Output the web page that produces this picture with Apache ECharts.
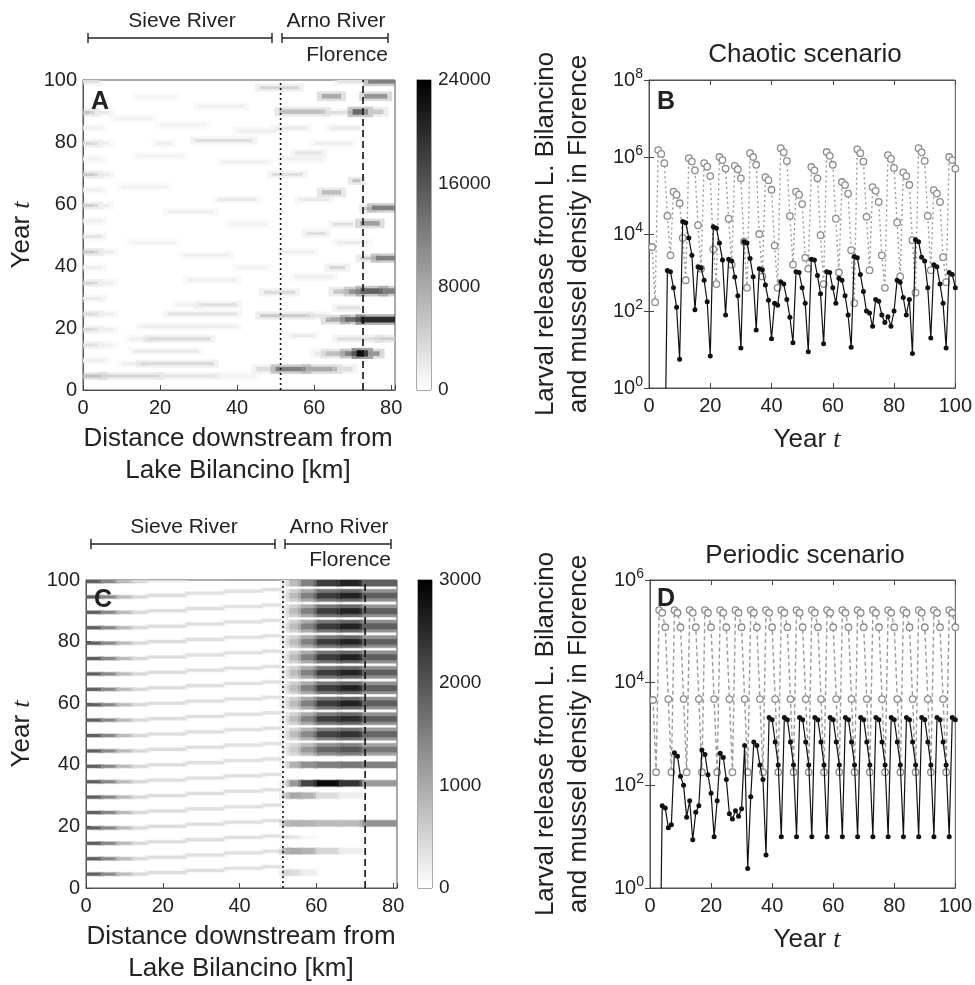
<!DOCTYPE html>
<html><head><meta charset="utf-8">
<script src="https://cdn.jsdelivr.net/npm/echarts@6/dist/echarts.min.js"></script>
<style>html,body{margin:0;padding:0;background:#fff}#c{width:975px;height:985px}</style>
</head><body><div id="c"></div>
<script>
// ---------------- DATA ----------------
// Panel B (chaotic): larval release from Lake Bilancino, years 1..100
const larvalB = [4.6e3,170,
 1.51e6,1.2e6,6.9e5,2.95e4,2.8e3,
 1.26e5,1.05e5,6.3e4,7.9e3,6.3e2,
 9.3e5,7.6e5,4.5e5,1.7e4,1.26e3,
 6.9e5,5.6e5,3.2e5,4.0e3,5.0e2,
 1.0e6,8.3e5,5.0e5,2.5e4,1.6e3,
 5.9e5,4.8e5,2.8e5,6.3e3,4.0e2,
 1.26e6,1.0e6,6.3e5,1.0e4,7.9e2,
 3.0e5,2.5e5,1.41e5,5.0e3,4.0e2,
 1.7e6,1.32e6,7.9e5,2.95e4,1.6e3,
 1.26e5,1.05e5,6.0e4,2.4e3,1.26e3,
 5.5e5,4.5e5,2.8e5,9.3e3,5.0e2,
 1.35e6,1.07e6,6.3e5,2.5e4,1.0e3,
 2.24e5,1.86e5,1.12e5,3.8e3,1.6e2,
 1.58e6,1.26e6,7.6e5,2.8e4,1.15e3,
 1.66e5,1.32e5,6.8e4,2.8e3,4.0e2,
 1.12e6,8.9e5,5.2e5,2.0e4,7.9e2,
 4.0e5,3.2e5,1.9e5,6.9e3,3.0e2,
 1.7e6,1.32e6,7.9e5,2.95e4,1.15e3,
 1.38e5,1.12e5,6.8e4,2.5e3,5.6e2,
 1.0e6,8.3e5,5.0e5];
const larvalBStart = 1;
// Panel B: mussel density in Florence, years 5..100 (year 5 is zero -> below axis)
const musselB = [1e-3,
 1120,1050,400,126,5.6,
 2.1e4,1.95e4,7.9e3,2.8e3,107,
 1400,1300,630,174,6.8,
 1.55e4,1.4e4,5.8e3,2.1e3,79,
 2200,2000,760,250,11,
 6300,5800,2300,780,32,
 1260,1170,470,190,19,
 160,140,575,500,200,69,15,
 1050,1000,400,160,8.7,
 2200,2100,830,280,14,
 1050,1000,400,160,710,630,250,79,11.5,
 2600,2400,890,320,100,89,40,200,178,79,50,71,40,100,
 630,560,224,79,200,7.9,
 7100,6300,2500,2000,400,20,
 1600,1400,500,160,11,
 1000,890,400];
const musselBStart = 5;

// Panel D (periodic): larval release, years 1..100
const larvalD = [4.6e3,180,
 2.6e5,2.3e5,1.2e5,4.8e3,180, 2.6e5,2.3e5,1.2e5,4.8e3,180, 2.6e5,2.3e5,1.2e5,4.8e3,180,
 2.6e5,2.3e5,1.2e5,4.8e3,180, 2.6e5,2.3e5,1.2e5,4.8e3,180, 2.6e5,2.3e5,1.2e5,4.8e3,180,
 2.6e5,2.3e5,1.2e5,4.8e3,180, 2.6e5,2.3e5,1.2e5,4.8e3,180, 2.6e5,2.3e5,1.2e5,4.8e3,180,
 2.6e5,2.3e5,1.2e5,4.8e3,180, 2.6e5,2.3e5,1.2e5,4.8e3,180, 2.6e5,2.3e5,1.2e5,4.8e3,180,
 2.6e5,2.3e5,1.2e5,4.8e3,180, 2.6e5,2.3e5,1.2e5,4.8e3,180, 2.6e5,2.3e5,1.2e5,4.8e3,180,
 2.6e5,2.3e5,1.2e5,4.8e3,180, 2.6e5,2.3e5,1.2e5,4.8e3,180, 2.6e5,2.3e5,1.2e5,4.8e3,180,
 2.6e5,2.3e5,1.2e5,4.8e3,180,
 2.6e5,2.3e5,1.2e5];
const larvalDStart = 1;
// Panel D: mussel density in Florence, years 3..100 (year 3 is zero)
const musselD = [1e-3,
 40,36,15,17,
 430,370,150,100,24,50,8.7,30,40,
 490,400,160,70,10,50,
 420,350,130,28,22,32,25,35,600,2.4,60,
 700,600,250,130,4.4,
 2100,1900,700,250,10, 2100,1900,700,250,10, 2100,1900,700,250,10,
 2100,1900,700,250,10, 2100,1900,700,250,10, 2100,1900,700,250,10,
 2100,1900,700,250,10, 2100,1900,700,250,10, 2100,1900,700,250,10,
 2100,1900,700,250,10, 2100,1900,700,250,10, 2100,1900,700,250,10,
 2100,1900];
const musselDStart = 3;

// Panel A heat map: [kmFrom, kmTo, yearFrom, yearTo, density]
const heatA = [
 [0,4,99,100,3000],[0,3,89,90,5500],[3,7,89,90,2000],[0,5,84,85,1500],[0,4,79,80,3500],[4,7,79,80,1500],
 [0,5,74,75,1200],[0,4,69,70,5000],[4,7,69,70,2000],[0,5,64,65,1500],[0,4,59,60,4500],[4,7,59,60,1500],
 [0,5,54,55,1500],[0,5,49,50,2500],[0,4,44,45,5000],[4,8,44,45,2000],[0,5,39,40,1500],[0,4,34,35,4000],
 [4,8,34,35,1500],[0,5,29,30,1800],[0,4,24,25,3500],[4,8,24,25,1500],[0,4,19,20,3500],[4,8,19,20,1500],
 [0,4,14,15,3000],[4,8,14,15,1200],[0,6,9,10,1500],
 [0,5,4,5,6000],[5,20,4,5,4000],[20,35,4,5,2500],[35,45,4,5,1200],
 [10,15,8,9,1500],[15,34,8,9,3500],[13,30,12,13,2000],[12,17,16,17,1500],[17,33,16,17,3500],
 [15,40,20,21,1500],[22,40,24,25,2500],[30,40,27,28,3000],[24,30,27,28,1500],[27,40,35,36,1500],
 [29,44,80,81,3000],[19,23,79,80,1500],[35,45,61,62,2000],[8,18,87,88,1200],[20,32,85,86,1200],
 [40,50,83,84,1500],[14,26,75,76,1200],[36,48,73,74,1500],[10,22,65,66,1200],[22,34,57,58,1500],
 [38,48,53,54,1200],[12,24,47,48,1200],[26,38,43,44,1500],[40,48,39,40,1200],[30,42,91,92,1500],[14,24,94,95,1000],
 [45,50,6,7.5,3000],[50,58,6,7.5,12000],[58,66,6,7.5,8000],[66,70,6,7.5,3000],
 [60,63,11,12.5,2000],[63,68,11,12.5,6000],[68,71,11,12.5,12000],[71,74,10.8,12.8,23000],[74,77,11,12.5,10000],
 [66,77,16,17,3000],[77,81,16,17,4500],[54,60,17,18,2000],
 [63,68,22,23.5,8000],[68,72,22,23.5,14000],[72,81,21.8,23.6,20000],
 [46,59,23.5,24.5,5000],[59,63,23.5,24.5,2500],[66,72,26,27,3000],
 [47,55,31,32,3500],[65,69,31,32.5,5000],[69,72,31,32.5,10000],[72,78,31,32.8,15000],[78,81,31,32.8,12000],
 [55,65,36,37,1500],[64,68,39,40,4000],[72,76,42,43,5000],[76,81,41.8,43.3,12000],[52,60,44,45,1500],
 [66,74,47,48,2000],[58,63,50,51,3000],[65,70,53,54,3000],[72,77,53,54.5,9000],
 [73,75,58,59,5000],[75,81,58,59.5,12000],[56,64,61,62,2000],[62,67,63,64.5,6000],[70,72,67,68,6000],
 [49,57,69,70,3000],[52,62,74,75,1500],[55,62,76,77,2500],[60,70,79,80,1500],[50,58,84,85,2000],[64,72,84,85,2000],
 [51,63,89,90.5,6000],[63,70,89,90,3000],[70,74,88.8,90.6,14000],[74,78,89,90.5,5000],
 [62,67,94,95.5,8000],[73,79,94,95.5,10000],[46,56,97,98,4000],[66,74,99,100,2500],[74,81,98.8,100,12000]
];
// Panel C heat map (periodic)
const cReleaseYears = [5,10,15,20,25,30,35,40,45,50,55,60,65,70,75,80,85,90,95,100];
// Sieve profile of each release streak: [kmFrom, kmTo, yearShift, density]
const cSieveProfile = [[0,4,0,1900],[4,8,0,1400],[8,12,0,800],[12,16,0,450],
 [16,26,0.5,400],[26,36,1.2,380],[36,46,1.9,350],[46,51,2.4,350]];
const cArnoBins = [[51,53],[53,56],[56,60],[60,66],[66,72],[72,81]];
// [yearFrom, yearTo, density in each Arno bin]
const cArnoRows = [
 [98,100, 300,800,1500,2300,2600,1900],
 [93,94, 200,550,1000,1600,1800,1300],[94,96, 300,800,1500,2300,2600,1900],[96,97, 200,550,1000,1600,1800,1300],
 [88,89, 200,550,1000,1600,1800,1300],[89,91, 300,800,1500,2300,2600,1900],[91,92, 200,550,1000,1600,1800,1300],
 [83,84, 200,550,1000,1600,1800,1300],[84,86, 300,800,1500,2300,2600,1900],[86,87, 200,550,1000,1600,1800,1300],
 [78,79, 200,550,1000,1600,1800,1300],[79,81, 300,800,1500,2300,2600,1900],[81,82, 200,550,1000,1600,1800,1300],
 [73,74, 200,550,1000,1600,1800,1300],[74,76, 300,800,1500,2300,2600,1900],[76,77, 200,550,1000,1600,1800,1300],
 [68,69, 200,550,1000,1600,1800,1300],[69,71, 300,800,1500,2300,2600,1900],[71,72, 200,550,1000,1600,1800,1300],
 [63,64, 200,550,1000,1600,1800,1300],[64,66, 300,800,1500,2300,2600,1900],[66,67, 200,550,1000,1600,1800,1300],
 [58,59, 200,550,1000,1600,1800,1300],[59,61, 300,800,1500,2300,2600,1900],[61,62, 200,550,1000,1600,1800,1300],
 [53,54, 200,550,1000,1600,1800,1300],[54,56, 300,800,1500,2300,2500,1900],[56,57, 200,550,1000,1600,1800,1300],
 [48,49, 200,500,900,1500,1700,1200],[49,51, 300,800,1400,2200,2400,1800],[51,52, 200,500,900,1500,1700,1200],
 [43,44, 200,450,800,1300,1500,1100],[44,46, 250,600,1200,1800,2000,1600],[46,47, 200,450,800,1300,1500,1100],
 [39,41, 300,900,1300,1500,1600,1500],
 [33,35, 400,1200,2200,2900,2400,1200],
 [29,31, 600,1000,900,400,200,0],
 [20,22, 800,900,900,800,800,1300],
 [16,17, 400,300,100,0,0,0],
 [11,13, 900,1000,900,500,200,0],
 [4,6, 500,400,200,0,0,0]
];

const arnoStartKm = 51.3, florenceKm = 72.7;

// ---------------- HELPERS ----------------
const FONT = '"Liberation Sans", Arial, Helvetica, sans-serif';
const TXT = '#222';
function pairs(arr, start){ return arr.map((v,i)=>[start+i, v]); }
const heatC = [];
cReleaseYears.forEach(y=>{ cSieveProfile.forEach(p=>heatC.push([p[0],p[1],y-1+p[2],y+p[2],p[3]])); });
cArnoRows.forEach(r=>{ cArnoBins.forEach((b,j)=>{ if(r[2+j]>0) heatC.push([b[0],b[1],r[0],r[1],r[2+j]]); }); });

// soft-edged cell: a faint halo rect behind the solid core rect
function makeRect(hx, hy, op){
  return function(params, api){
    const a = api.coord([api.value(0), api.value(3)]);
    const b = api.coord([api.value(1), api.value(2)]);
    const c = api.visual('color');
    const w = b[0]-a[0], h = b[1]-a[1];
    return {type:'group', children:[
      {type:'rect', shape:{x:a[0]-hx, y:a[1]-hy, width:w+2*hx, height:h+2*hy}, style:{fill:c, opacity:op}},
      {type:'rect', shape:{x:a[0], y:a[1], width:w, height:h}, style:{fill:c}}
    ]};
  };
}
function barItem(params, api){
  const a = api.coord([0, api.value(1)]);
  const b = api.coord([1, api.value(0)]);
  return {type:'rect', shape:{x:a[0], y:a[1], width:b[0]-a[0], height:b[1]-a[1]},
    style:{fill: new echarts.graphic.LinearGradient(0,0,0,1,[{offset:0,color:'#000'},{offset:1,color:'#fff'}])}};
}
const tick = {show:true, inside:true, length:5, lineStyle:{color:'#444'}};
const line = {show:true, lineStyle:{color:'#555', width:1}};
const lab = {color:TXT, fontSize:20, fontFamily:FONT};
function linX(grid, max, extra){ return Object.assign({gridIndex:grid, type:'value', min:0, max:max, interval:20,
  axisLine:line, axisTick:tick, splitLine:{show:false},
  axisLabel:Object.assign({margin:8, formatter:v=> (v%20===0? String(v):'')}, lab)}, extra||{}); }
function logFmt(v){ const e=Math.round(Math.log10(v)); return (e%2===0)? '{b|10}{s|'+e+'}' : ''; }
const logLab = Object.assign({margin:6, formatter:logFmt, rich:{b:{fontSize:20, lineHeight:26, color:TXT, fontFamily:FONT}, s:{fontSize:14, lineHeight:14, verticalAlign:'top', color:TXT, fontFamily:FONT}}}, lab);
const decB = [1,1e2,1e4,1e6,1e8], decD = [1,1e2,1e4,1e6];
function logY(grid, max, vals, right){
  return {gridIndex:grid, type:'log', logBase:10, min:1, max:max, splitNumber:8, position: right?'right':'left',
    axisLine:line, axisTick:Object.assign({customValues:vals}, tick), splitLine:{show:false}, minorTick:{show:false},
    axisLabel: right? {show:false} : Object.assign({customValues:vals}, logLab)};
}
const cbLab = Object.assign({margin:7, formatter:v=>String(v)}, lab, {fontSize:19});

const grids = [
 {left:83, top:80, width:312, height:310},
 {left:417, top:80, width:14, height:310},
 {left:649, top:80, width:311, height:308},
 {left:86, top:580, width:311, height:308},
 {left:418, top:580, width:14, height:308},
 {left:650, top:580, width:308, height:308}
].map(g=>Object.assign({show:true, borderColor:'#555', borderWidth:1, backgroundColor:'transparent'}, g));

const xAxes = [
 linX(0, 81),
 {gridIndex:1, type:'value', min:0, max:1, show:false},
 linX(2, 100),
 linX(2, 100, {position:'top', axisLabel:{show:false}}),
 linX(3, 81),
 {gridIndex:4, type:'value', min:0, max:1, show:false},
 linX(5, 100),
 linX(5, 100, {position:'top', axisLabel:{show:false}})
];
const yAxes = [
 {gridIndex:0, type:'value', min:0, max:100, interval:20, axisLine:line, axisTick:tick, splitLine:{show:false}, axisLabel:Object.assign({margin:6},lab)},
 {gridIndex:1, type:'value', position:'right', min:0, max:24000, interval:8000, axisLine:line, axisTick:{show:false}, splitLine:{show:false}, axisLabel:cbLab},
 logY(2, 1e8, decB, false),
 logY(2, 1e8, decB, true),
 {gridIndex:3, type:'value', min:0, max:100, interval:20, axisLine:line, axisTick:tick, splitLine:{show:false}, axisLabel:Object.assign({margin:6},lab)},
 {gridIndex:4, type:'value', position:'right', min:0, max:3000, interval:1000, axisLine:line, axisTick:{show:false}, splitLine:{show:false}, axisLabel:cbLab},
 logY(5, 1e6, decD, false),
 logY(5, 1e6, decD, true)
];

function vline(xi, yi, km, dash){
  return {type:'line', xAxisIndex:xi, yAxisIndex:yi, data:[[km,0],[km,100]], symbol:'none', silent:true, z:5,
    lineStyle:{color:'#111', width:1.6, type:dash}};
}
const grayLine = (xi, yi, data, dash) => ({type:'line', xAxisIndex:xi, yAxisIndex:yi, data:data, clip:true, z:3,
  symbol:'circle', symbolSize:6.5, itemStyle:{color:'#fff', borderColor:'#8c8c8c', borderWidth:1.3},
  lineStyle:{color:'#9a9a9a', width:1.4, type:dash}});
const blackLine = (xi, yi, data) => ({type:'line', xAxisIndex:xi, yAxisIndex:yi, data:data, clip:true, z:4,
  symbol:'circle', symbolSize:5, itemStyle:{color:'#111', borderWidth:0}, lineStyle:{color:'#111', width:1.2}});

const series = [
 {type:'custom', xAxisIndex:0, yAxisIndex:0, renderItem:makeRect(5,2.5,0.35), data:heatA, clip:true, dimensions:['x0','x1','y0','y1','v'], encode:{x:[0,1], y:[2,3]}},
 vline(0,0,arnoStartKm,[2,3]), vline(0,0,florenceKm,[7,4]),
 {type:'custom', xAxisIndex:1, yAxisIndex:1, renderItem:barItem, data:[[0,24000]], silent:true},
 grayLine(2,2,pairs(larvalB,larvalBStart),[2,3]),
 blackLine(2,2,pairs(musselB,musselBStart)),
 {type:'custom', xAxisIndex:4, yAxisIndex:4, renderItem:makeRect(3,0.8,0.3), data:heatC, clip:true, dimensions:['x0','x1','y0','y1','v'], encode:{x:[0,1], y:[2,3]}},
 vline(4,4,arnoStartKm,[2,3]), vline(4,4,florenceKm,[7,4]),
 {type:'custom', xAxisIndex:5, yAxisIndex:5, renderItem:barItem, data:[[0,3000]], silent:true},
 grayLine(6,6,pairs(larvalD,larvalDStart),[4,3]),
 blackLine(6,6,pairs(musselD,musselDStart))
];

// ---------- text & annotation graphics ----------
const BIG = '26px '+FONT;
function txt(x,y,s,font,align,rot){ return {type:'text', x:x, y:y, rotation:rot||0, z:10,
  style:{text:s, fill:TXT, font:font||BIG, textAlign:align||'center', textVerticalAlign:'middle'}}; }
function richTxt(x,y,s,rot){ return {type:'text', x:x, y:y, rotation:rot||0, z:10, style:{text:s, fill:TXT, font:BIG, textAlign:'center', textVerticalAlign:'middle',
  rich:{i:{fontStyle:'italic', fontSize:26, fontFamily:'"Liberation Serif", "Times New Roman", serif', fill:TXT}}}}; }
function seg(x1,y1,x2,y2){ return {type:'line', shape:{x1:x1,y1:y1,x2:x2,y2:y2}, style:{stroke:'#222', lineWidth:1.4}}; }
function bracket(x1,x2,y){ return [seg(x1,y,x2,y), seg(x1,y-5,x1,y+5), seg(x2,y-5,x2,y+5)]; }
const ANN = '21px '+FONT, LET = 'bold 25px '+FONT, R90 = Math.PI/2;
const graphics = [].concat(
 [txt(182,21,'Sieve River',ANN), txt(336,21,'Arno River',ANN), txt(388,55,'Florence',ANN,'right')],
 bracket(88,272,38), bracket(282,388,38),
 [txt(184,527,'Sieve River',ANN), txt(339,527,'Arno River',ANN), txt(391,560,'Florence',ANN,'right')],
 bracket(91,275,544), bracket(285,391,544),
 [txt(91,102,'A',LET,'left'), txt(657,102,'B',LET,'left'), txt(94,600,'C',LET,'left'), txt(657,599,'D',LET,'left')],
 [richTxt(22,235,'Year {i|t}',R90), richTxt(22,734,'Year {i|t}',R90)],
 [txt(238,439,'Distance downstream from'), txt(238,471,'Lake Bilancino [km]'),
  txt(241,937,'Distance downstream from'), txt(241,969,'Lake Bilancino [km]')],
 [richTxt(807,440,'Year {i|t}'), richTxt(807,940,'Year {i|t}')],
 [txt(805,55,'Chaotic scenario'), txt(805,556,'Periodic scenario')],
 [txt(546,234,'Larval release from L. Bilancino',BIG,'center',R90), txt(579,234,'and mussel density in Florence',BIG,'center',R90),
  txt(546,734,'Larval release from L. Bilancino',BIG,'center',R90), txt(579,734,'and mussel density in Florence',BIG,'center',R90)]
);

const chart = echarts.init(document.getElementById('c'), null, {renderer:'canvas'});
chart.setOption({
  backgroundColor:'#fff', animation:false,
  grid:grids, xAxis:xAxes, yAxis:yAxes,
  visualMap:[
    {type:'continuous', show:false, seriesIndex:0, dimension:4, min:0, max:24000, inRange:{color:['#ffffff','#000000']}},
    {type:'continuous', show:false, seriesIndex:6, dimension:4, min:0, max:3000, inRange:{color:['#ffffff','#000000']}}
  ],
  series:series,
  graphic:graphics
});
</script></body></html>
